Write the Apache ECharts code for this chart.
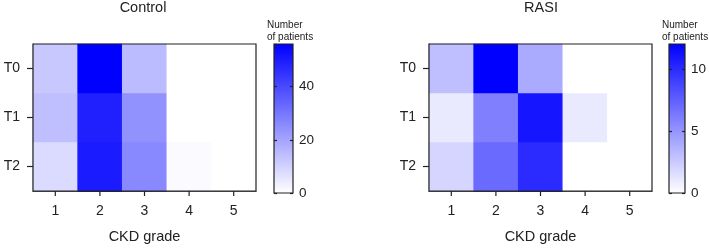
<!DOCTYPE html>
<html>
<head>
<meta charset="utf-8">
<script src="https://cdn.jsdelivr.net/npm/echarts@6/dist/echarts.min.js"></script>
<style>
  html, body { margin: 0; padding: 0; background: #fff; }
  #main { width: 709px; height: 249px; }
</style>
</head>
<body>
<div id="main"></div>
<script>
// CKD grade categories and timepoints (bottom to top)
var grades = ['1', '2', '3', '4', '5'];
var timepoints = ['T2', 'T1', 'T0'];

// number of patients per CKD grade
var controlT0 = [12, 56, 15, 0, 0];
var controlT1 = [14, 49, 24, 0, 0];
var controlT2 = [8, 50, 26, 1, 0];
var rasiT0 = [3, 12, 4, 0, 0];
var rasiT1 = [1, 6, 11, 1, 0];
var rasiT2 = [2, 7, 10, 0, 0];

// colour scale ranges
var controlMax = 56;
var rasiMax = 12;

var font = '"Liberation Sans", Arial, sans-serif';
var ink = '#222';

function toCells(rows) {
    var out = [];
    for (var r = 0; r < rows.length; r++) {
        for (var c = 0; c < rows[r].length; c++) {
            out.push([c, r, rows[r][c]]);
        }
    }
    return out;
}

// one entry per category tick: [x index, y index, 0 = x tick / 1 = y tick]
function tickItems() {
    var out = [];
    grades.forEach(function (g, i) { out.push([i, 0, 0]); });
    timepoints.forEach(function (t, j) { out.push([0, j, 1]); });
    return out;
}

// outward tick drawn from the cell centre to the outer edge of the cell band
function renderTick(params, api) {
    var p = api.coord([api.value(0), api.value(1)]);
    var s = api.size([1, 1]);
    var shape;
    if (api.value(2) === 0) {
        var yb = p[1] + s[1] / 2;
        shape = { x1: p[0], y1: yb, x2: p[0], y2: yb + 5 };
    } else {
        var xl = p[0] - s[0] / 2;
        shape = { x1: xl, y1: p[1], x2: xl - 6, y2: p[1] };
    }
    return { type: 'line', shape: shape, style: { stroke: ink, lineWidth: 1.2 } };
}

var grids = [
    { left: 33, top: 44, width: 223, height: 149 },
    { left: 274, top: 44, width: 19, height: 149 },
    { left: 429, top: 44, width: 223, height: 149 },
    { left: 669, top: 44, width: 19, height: 149 }
];
grids.forEach(function (g) {
    g.show = true;
    g.z = 10;
    g.backgroundColor = 'transparent';
    g.borderColor = ink;
    g.borderWidth = 1.2;
});

function heatX(gi) {
    return {
        type: 'category', gridIndex: gi, data: grades, position: 'bottom',
        name: 'CKD grade', nameLocation: 'middle', nameGap: 38,
        nameTextStyle: { fontFamily: font, fontSize: 14.5, color: ink },
        axisLine: { show: true, lineStyle: { color: ink, width: 1.2 } },
        axisTick: { show: false },
        axisLabel: { show: true, margin: 13, fontFamily: font, fontSize: 14, color: ink },
        splitLine: { show: false }
    };
}
function heatY(gi) {
    return {
        type: 'category', gridIndex: gi, data: timepoints, position: 'left',
        axisLine: { show: true, lineStyle: { color: ink, width: 1.2 } },
        axisTick: { show: false },
        axisLabel: { show: true, margin: 13, fontFamily: font, fontSize: 14, color: ink },
        splitLine: { show: false }
    };
}
function barX(gi) {
    return { type: 'category', gridIndex: gi, data: [''], show: false };
}
function barY(gi, max, step, pos) {
    return {
        type: 'value', gridIndex: gi, min: 0, max: max, interval: step, position: pos,
        axisLine: { show: false },
        axisTick: { show: true, inside: true, length: 3, lineStyle: { color: ink, width: 1.2 } },
        axisLabel: { show: pos === 'right', showMaxLabel: false, margin: 6, fontFamily: font, fontSize: 13.5, color: ink },
        splitLine: { show: false }, z: 12
    };
}

var gradient = {
    type: 'linear', x: 0, y: 0, x2: 0, y2: 1,
    colorStops: [{ offset: 0, color: '#0000ff' }, { offset: 1, color: '#ffffff' }]
};

function titleText(text, left, top, size, align) {
    return {
        text: text, left: left, top: top, padding: 0, textAlign: align,
        textStyle: { fontFamily: font, fontSize: size, lineHeight: size < 12 ? 12 : size + 2, fontWeight: 'normal', color: ink }
    };
}

var option = {
    backgroundColor: '#fff',
    animation: false,
    title: [
        titleText('Control', 143, 0, 14.5, 'center'),
        titleText('RASI', 541, 0, 14.5, 'center'),
        titleText('Number\nof patients', 267, 19, 10, 'left'),
        titleText('Number\nof patients', 662, 19, 10, 'left')
    ],
    grid: grids,
    xAxis: [heatX(0), barX(1), heatX(2), barX(3)],
    yAxis: [
        heatY(0),
        barY(1, controlMax, 20, 'right'),
        heatY(2),
        barY(3, rasiMax, 5, 'right'),
        barY(1, controlMax, 20, 'left'),
        barY(3, rasiMax, 5, 'left')
    ],
    visualMap: [
        { type: 'continuous', show: false, min: 0, max: controlMax, seriesIndex: 0,
          inRange: { color: ['#ffffff', '#0000ff'] } },
        { type: 'continuous', show: false, min: 0, max: rasiMax, seriesIndex: 1,
          inRange: { color: ['#ffffff', '#0000ff'] } }
    ],
    series: [
        { type: 'heatmap', xAxisIndex: 0, yAxisIndex: 0,
          data: toCells([controlT2, controlT1, controlT0]) },
        { type: 'heatmap', xAxisIndex: 2, yAxisIndex: 2,
          data: toCells([rasiT2, rasiT1, rasiT0]) },
        { type: 'bar', xAxisIndex: 1, yAxisIndex: 1, barWidth: '100%', silent: true,
          itemStyle: { color: gradient }, data: [controlMax] },
        { type: 'bar', xAxisIndex: 3, yAxisIndex: 3, barWidth: '100%', silent: true,
          itemStyle: { color: gradient }, data: [rasiMax] },
        { type: 'custom', xAxisIndex: 0, yAxisIndex: 0, silent: true, clip: false,
          dimensions: ['x', 'y', 'kind'], renderItem: renderTick, data: tickItems() },
        { type: 'custom', xAxisIndex: 2, yAxisIndex: 2, silent: true, clip: false,
          dimensions: ['x', 'y', 'kind'], renderItem: renderTick, data: tickItems() }
    ]
};

var myChart = echarts.init(document.getElementById('main'));
myChart.setOption(option);
</script>
</body>
</html>
